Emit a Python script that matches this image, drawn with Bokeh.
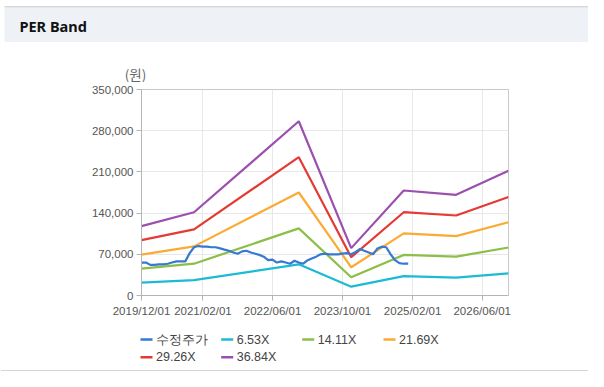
import pandas as pd
from bokeh.plotting import figure
from bokeh.layouts import column
from bokeh.models import (FixedTicker, NumeralTickFormatter, DatetimeTickFormatter,
                          Range1d)
from bokeh.core.properties import value
from bokeh.embed import file_html
from bokeh.resources import INLINE

# ---------------- data ----------------
band_dates = ["2019-12-01", "2020-12-01", "2022-12-01", "2023-12-01",
              "2024-12-01", "2025-12-01", "2026-12-01"]
band_653 = [22000, 26000, 53000, 15000, 33000, 30500, 37500]
band_1411 = [45500, 54000, 114000, 31000, 69000, 66000, 81500]
band_2169 = [69500, 83500, 175000, 48000, 105500, 100800, 124500]
band_2926 = [94000, 112300, 235000, 65000, 141500, 135900, 167500]
band_3684 = [117800, 141500, 296000, 80500, 178400, 171000, 212000]

price_start = "2019-12-01"
price = [56000, 56000, 52000, 52000, 53000, 53000, 54000, 56000, 58000, 58000,
         58000, 72000, 82000, 84000, 83000, 83000, 82000, 82000, 80000, 78000,
         76000, 73000, 71000, 75000, 76000, 73000, 71000, 69000, 66000, 60000,
         61000, 56000, 58000, 56000, 54000, 59000, 56000, 54000, 60000, 63000,
         66000, 70000, 71000, 70000, 70000, 70000, 71000, 72000, 70000, 74000,
         79000, 76000, 73000, 70000, 80000, 83000, 82000, 70000, 60000, 55000,
         54000, 54000]

series_names = ["수정주가", "6.53X", "14.11X", "21.69X", "29.26X", "36.84X"]
series_colors = ["#3579d3", "#1bbcd3", "#8cbf47", "#fbaa33", "#e43a33", "#9b4fae"]

x_tick_labels = ["2019-12-01", "2021-02-01", "2022-06-01", "2023-10-01",
                 "2025-02-01", "2026-06-01"]
y_ticks = [0, 70000, 140000, 210000, 280000, 350000]
x_start, x_end = "2019-12-01", "2026-12-01"
title_text = "PER Band"
unit_text = "(원)"

W = 588
TOP_H = 82       # header figure: page rows 0..81
MAIN_H = 240     # main chart: page rows 82..321
LEG_H = 371 - TOP_H - MAIN_H


def blank_fig(h, y0):
    f = figure(width=W, height=h, output_backend="svg", toolbar_location=None,
               x_range=Range1d(0, W), y_range=Range1d(y0 + h, y0),
               x_axis_location=None, y_axis_location=None,
               min_border=0, min_border_left=0, min_border_right=0,
               min_border_top=0, min_border_bottom=0)
    f.grid.visible = False
    f.outline_line_color = None
    f.background_fill_color = "white"
    f.border_fill_color = "white"
    return f


# ---------------- header ----------------
top = blank_fig(TOP_H, 0)
top.quad(left=[4], right=[W], top=[7], bottom=[41.5], fill_color="#eef2f7",
         line_color=None)
top.quad(left=[4], right=[W], top=[5.5], bottom=[7], fill_color="#d6d8db",
         line_color=None)
top.text(x=[19], y=[25], text=[title_text], text_font=value("Noto Sans"),
         text_font_style="bold", text_font_size="14.5px", text_color="#111111",
         text_baseline="middle", text_align="left")
top.text(x=[135], y=[73], text=[unit_text], text_font=value("Noto Sans CJK KR"),
         text_font_size="13.5px", text_color="#666666",
         text_baseline="middle", text_align="center")

# ---------------- main chart ----------------
def ms(d):
    return pd.Timestamp(d).timestamp() * 1000.0

p = figure(width=W, height=MAIN_H, x_axis_type="datetime",
           output_backend="svg", toolbar_location=None,
           x_range=Range1d(ms(x_start), ms(x_end)),
           y_range=Range1d(0, 350000),
           min_border_left=141, min_border_right=W - 508,
           min_border_top=89 - TOP_H, min_border_bottom=TOP_H + MAIN_H - 295)
p.background_fill_color = "white"
p.border_fill_color = "white"
p.outline_line_color = "#c9c9c9"

p.xaxis.ticker = FixedTicker(ticks=[ms(d) for d in x_tick_labels])
fmt = "%Y/%m/%d"
p.xaxis.formatter = DatetimeTickFormatter(
    milliseconds=fmt, seconds=fmt, minsec=fmt, minutes=fmt, hourmin=fmt,
    hours=fmt, days=fmt, months=fmt, years=fmt)
p.yaxis.ticker = FixedTicker(ticks=y_ticks)
p.yaxis.formatter = NumeralTickFormatter(format="0,0")

for ax in (p.xaxis, p.yaxis):
    ax.axis_line_color = "#b5b5b5"
    ax.major_tick_line_color = "#b5b5b5"
    ax.major_tick_out = 5
    ax.major_tick_in = 0
    ax.minor_tick_line_color = None
    ax.major_label_text_font = "Liberation Sans"
    ax.major_label_text_font_size = "11.5px"
    ax.major_label_text_color = "#555555"
p.yaxis.major_label_standoff = 3
p.xaxis.major_label_standoff = 4
p.xgrid.grid_line_color = "#e8e8e8"
p.ygrid.grid_line_color = "#e8e8e8"

bd = pd.to_datetime(band_dates)
pdates = pd.date_range(price_start, periods=len(price), freq="MS")

band_vals = [band_653, band_1411, band_2169, band_2926, band_3684]
for vals, col in zip(band_vals, series_colors[1:]):
    p.line(bd, vals, line_color=col, line_width=2.2)
p.line(pdates, price, line_color=series_colors[0], line_width=2.2)

# ---------------- legend ----------------
leg_y0 = TOP_H + MAIN_H
leg = blank_fig(LEG_H, leg_y0)
col_x = [140, 220.7, 301.7, 383]
row_y = [339, 356.7]
x0s, x1s, ys, tx = [], [], [], []
for i in range(len(series_names)):
    cx = col_x[i % 4]
    cy = row_y[i // 4]
    x0s.append(cx)
    x1s.append(cx + 12)
    ys.append(cy)
    tx.append(cx + 15.5)
leg.segment(x0=x0s, y0=ys, x1=x1s, y1=ys, line_color=series_colors, line_width=2.5)
leg.text(x=tx, y=ys, text=series_names, text_font=value("Liberation Sans"),
         text_font_size="12.5px", text_color="#444444",
         text_baseline="middle", text_align="left")
leg.quad(left=[0], right=[W], top=[369.5], bottom=[371], fill_color="#d5d5d5",
         line_color=None)

layout = column(column(top, width=W, height=TOP_H), p,
                column(leg, width=W, height=LEG_H), spacing=0)
open("out.html", "w").write(file_html(layout, INLINE))
